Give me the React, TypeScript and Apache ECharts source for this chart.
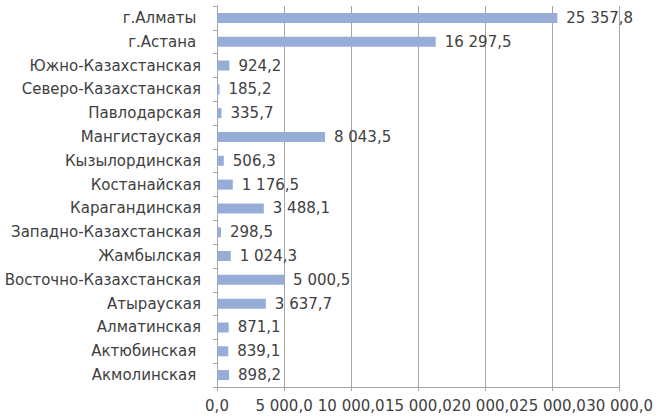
import React, { useEffect, useRef } from "react";
import * as echarts from "echarts";

const categories = [
  "Акмолинская ",
  "Актюбинская ",
  "Алматинская",
  "Атырауская",
  "Восточно-Казахстанская",
  "Жамбылская",
  "Западно-Казахстанская",
  "Карагандинская",
  "Костанайская",
  "Кызылординская",
  "Мангистауская",
  "Павлодарская",
  "Северо-Казахстанская",
  "Южно-Казахстанская",
  "г.Астана ",
  "г.Алматы ",
];
const values = [
  898.2, 839.1, 871.1, 3637.7, 5000.5, 1024.3, 298.5, 3488.1, 1176.5, 506.3,
  8043.5, 335.7, 185.2, 924.2, 16297.5, 25357.8,
];
const xMin = 0;
const xMax = 30000;
const xStep = 5000;

function fmt(v: number): string {
  const [i, d] = v.toFixed(1).split(".");
  return i.replace(/\B(?=(\d{3})+(?!\d))/g, " ") + "," + d;
}

export default function App() {
  const ref = useRef<HTMLDivElement>(null);
  useEffect(() => {
    if (!ref.current) return;
    const chart = echarts.init(ref.current, undefined, { renderer: "svg" });
    const font = "'DejaVu Sans', sans-serif";
    chart.setOption({
      animation: false,
      backgroundColor: "#ffffff",
      grid: { left: 217, right: 35, top: 6, bottom: 29, containLabel: false },
      xAxis: {
        type: "value",
        min: xMin,
        max: xMax,
        interval: xStep,
        axisLine: { show: true, lineStyle: { color: "#a6a6a6" } },
        axisTick: { show: true, length: 4, lineStyle: { color: "#a6a6a6" } },
        splitLine: { show: true, lineStyle: { color: "#a6a6a6", width: 1 } },
        axisLabel: {
          formatter: (v: number) => fmt(v),
          color: "#404040",
          fontSize: 15,
          fontFamily: font,
          margin: 11,
        },
      },
      yAxis: {
        type: "category",
        data: categories,
        axisLine: { show: true, lineStyle: { color: "#a6a6a6" } },
        axisTick: { show: true, length: 4, lineStyle: { color: "#a6a6a6" } },
        axisLabel: {
          color: "#404040",
          fontSize: 15,
          fontFamily: font,
          margin: 16,
        },
      },
      series: [
        {
          type: "bar",
          data: values,
          barWidth: 10,
          itemStyle: { color: "#96add7" },
          label: {
            show: true,
            position: "right",
            distance: 9,
            formatter: (p: any) => fmt(p.value),
            color: "#404040",
            fontSize: 15,
            fontFamily: font,
          },
        },
      ],
    });
    return () => chart.dispose();
  }, []);
  return (
    <div
      ref={ref}
      style={{ position: "fixed", left: 0, top: 0, width: 656, height: 416 }}
    />
  );
}
